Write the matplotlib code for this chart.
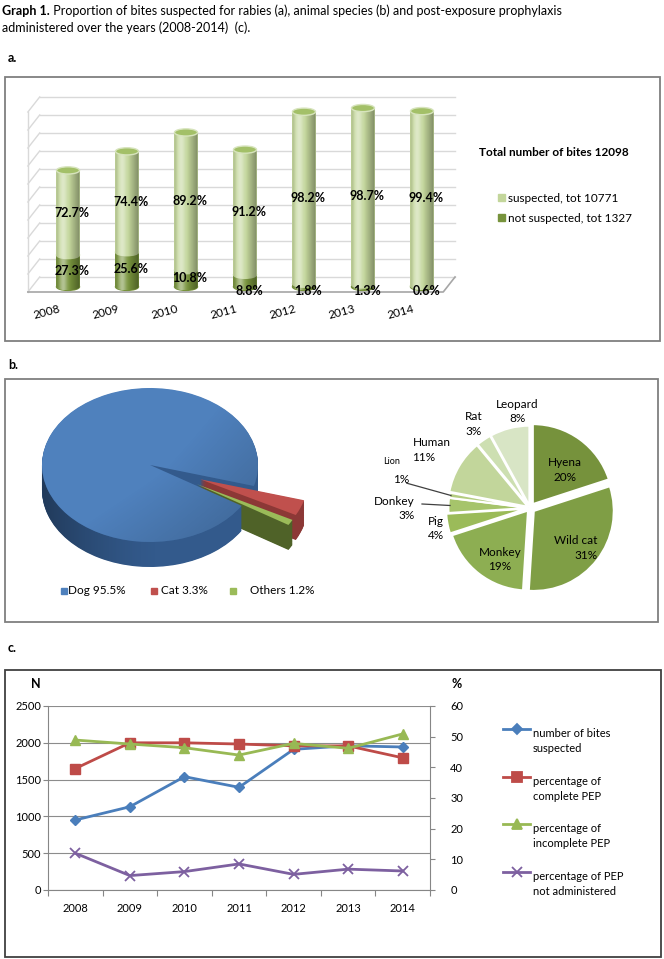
import numpy as np
import matplotlib
matplotlib.use("Agg")
import matplotlib.pyplot as plt
from matplotlib.patches import Rectangle, Ellipse, Polygon
from matplotlib.lines import Line2D

plt.rcParams['font.family'] = ['Lato', 'DejaVu Sans']

W, H = 664, 959

# ---- data -------------------------------------------------------------
years = ["2008", "2009", "2010", "2011", "2012", "2013", "2014"]

# a. bites per year (suspected / not suspected for rabies)
suspected = [940, 1120, 1530, 1390, 1910, 1960, 1940]
not_suspected = [353, 385, 185, 134, 35, 26, 12]
pct_suspected = [72.7, 74.4, 89.2, 91.2, 98.2, 98.7, 99.4]
pct_not_suspected = [27.3, 25.6, 10.8, 8.8, 1.8, 1.3, 0.6]
legend_a = ["suspected, tot 10771", "not suspected, tot 1327"]
total_a = "Total number of bites 12098"

# b. animal species
species = ["Dog 95.5%", "Cat 3.3%", "Others 1.2%"]
species_share = [95.5, 3.3, 1.2]
others = ["Hyena", "Wild cat", "Monkey", "Pig", "Donkey", "Lion", "Human", "Rat", "Leopard"]
others_share = [20, 31, 19, 4, 3, 1, 11, 3, 8]

# c. PEP over the years
bites_suspected = [951, 1131, 1540, 1395, 1911, 1960, 1943]
pep_complete = [39.6, 48.0, 48.0, 47.6, 47.0, 47.0, 43.1]
pep_incomplete = [48.9, 47.6, 46.4, 44.0, 47.8, 46.2, 50.9]
pep_none = [12.0, 4.7, 6.0, 8.5, 5.1, 6.8, 6.2]
series_c = ["number of bites\nsuspected", "percentage of\ncomplete PEP",
            "percentage of\nincomplete PEP", "percentage of PEP\nnot administered"]


def px_box(l, t, r, b):
    return [l / W, 1 - b / H, (r - l) / W, (b - t) / H]


fig = plt.figure(figsize=(W / 100, H / 100), dpi=100)

# overlay axes in pixel coordinates for frames, titles and legends
ax0 = fig.add_axes([0, 0, 1, 1])
ax0.set_xlim(0, W)
ax0.set_ylim(H, 0)
ax0.axis('off')

t1 = ax0.text(2, 11, "Graph 1.", fontsize=9, fontweight='bold', va='center')
ax0.annotate(" Proportion of bites suspected for rabies (a), animal species (b) and post-exposure prophylaxis",
             xy=(1, 0.5), xycoords=t1, va='center', fontsize=9)
ax0.text(2, 28, "administered over the years (2008-2014)  (c).", fontsize=9, va='center')
for lab, y in [("a.", 58), ("b.", 365), ("c.", 648)]:
    ax0.text(8, y, lab, fontsize=9, fontweight='bold', va='center')

ax0.add_patch(Rectangle((5, 77), 655, 264, fill=False, ec='#7f7f7f', lw=1.3))
ax0.add_patch(Rectangle((5, 379), 653, 243, fill=False, ec='#7f7f7f', lw=1.3))
ax0.add_patch(Rectangle((5, 670), 656, 287, fill=False, ec='#404040', lw=1.3))

# ---- a. 3D cylinder bars ---------------------------------------------
ax_a = fig.add_axes(px_box(20, 90, 470, 330))
ax_a.axis('off')
DX, DY = 0.2, 167
xf0, xf1 = -0.68, 6.36
wall = '#d9d9d9'
for g in range(0, 2001, 200):
    ax_a.plot([xf0 + DX, xf1 + DX], [g + DY, g + DY], color=wall, lw=1, zorder=1)
    ax_a.plot([xf0, xf0 + DX], [g, g + DY], color=wall, lw=1, zorder=1)
ax_a.plot([xf0, xf0], [0, 2000], color=wall, lw=1, zorder=1)
ax_a.plot([xf0, xf1, xf1 + DX], [0, 0, DY], color='#a6a6a6', lw=1.2, zorder=1)

light, dark, cap = '#c3d69b', '#77933c', '#a3c068'
bw, cap_h, b0 = 0.39, 80, 58
u = np.linspace(0, 1, 64)
hl = np.exp(-((u - 0.3) / 0.17) ** 2)
dk = np.clip((np.abs(u - 0.35) - 0.2) / 0.45, 0, 1)
shade = np.zeros((1, 64, 4))
shade[0, :, :3] = (hl / (hl + dk + 1e-6))[:, None]
shade[0, :, 3] = 0.45 * hl + 0.35 * dk

for i in range(len(years)):
    ns, s = not_suspected[i], suspected[i]
    top = b0 + ns + s
    ax_a.add_patch(Ellipse((i, b0), bw, cap_h, color=dark, zorder=3))
    ax_a.bar(i, ns, bottom=b0, width=bw, color=dark, zorder=3)
    ax_a.add_patch(Ellipse((i, b0 + ns), bw, cap_h, color=light, zorder=4))
    ax_a.bar(i, s, bottom=b0 + ns, width=bw, color=light, zorder=4)
    tl = np.linspace(np.pi, 2 * np.pi, 40)
    tu = np.linspace(0, np.pi, 40)
    xs = np.concatenate([i + bw / 2 * np.cos(tl), i + bw / 2 * np.cos(tu)])
    ys = np.concatenate([b0 + cap_h / 2 * np.sin(tl), top + cap_h / 2 * np.sin(tu)])
    outline = Polygon(np.column_stack([xs, ys]), closed=True, fc='none', ec='none')
    ax_a.add_patch(outline)
    im = ax_a.imshow(shade, extent=[i - bw / 2, i + bw / 2, b0 - cap_h / 2, top + cap_h / 2],
                     aspect='auto', zorder=5, interpolation='bilinear')
    im.set_clip_path(outline)
    ax_a.add_patch(Ellipse((i, top), bw, cap_h, fc=cap, ec='#d7e4bd', lw=1, zorder=6))

    ax_a.text(i + 0.07, b0 + ns + s / 2, f"{pct_suspected[i]:.1f}%", ha='center', va='center',
              fontsize=9, fontweight='bold', zorder=7)
    y_ns = b0 + ns / 2 if pct_not_suspected[i] >= 10 else b0 - 45
    ax_a.text(i + 0.07, y_ns, f"{pct_not_suspected[i]:.1f}%", ha='center', va='center',
              fontsize=9, fontweight='bold', zorder=7)
    ax_a.text(i - 0.36, -225, years[i], rotation=15, ha='center', va='center', fontsize=8.5)

ax_a.set_xlim((20 - 68) / 59, (470 - 68) / 59)
ax_a.set_ylim((292 - 330) / 0.09, (292 - 90) / 0.09)

ax0.text(479, 153, total_a, fontsize=8.5, fontweight='bold', va='center')
for lab, col, y in zip(legend_a, [light, dark], [198, 218]):
    ax0.add_patch(Rectangle((498, y - 4), 7, 7, color=col))
    ax0.text(508, y, lab, fontsize=8.5, va='center')

# ---- b. left 3D pie --------------------------------------------------
ax_b1 = fig.add_axes(px_box(10, 383, 330, 580))
top_cols = ['#4f81bd', '#c0504d', '#9bbb59']
side_cols = ['#335a8c', '#8c3836', '#4f6228']
explode = [0, 0.5, 0.5]
thick = 25 / 77
n = 40
for k in range(n, 0, -1):
    ax_b1.pie(species_share, colors=side_cols, explode=explode, startangle=-32,
              counterclock=False, center=(0, -thick * k / n), wedgeprops=dict(linewidth=0))

# horizontal shading on the visible side of the dog slice
ts = np.linspace(np.pi, 2 * np.pi - np.deg2rad(32), 80)
side_xy = np.concatenate([np.column_stack([np.cos(ts), np.sin(ts)]),
                          np.column_stack([np.cos(ts[::-1]), np.sin(ts[::-1]) - thick])])
side_poly = Polygon(side_xy, closed=True, fc='none', ec='none')
ax_b1.add_patch(side_poly)
us = np.linspace(0, 1, 80)
side_img = np.zeros((1, 80, 4))
side_img[0, :, 3] = 0.35 * np.clip(1 - us / 0.55, 0, 1) ** 1.5
im_s = ax_b1.imshow(side_img, extent=[-1, 1, -1 - thick, 0], aspect='auto', zorder=2,
                    interpolation='bilinear')
im_s.set_clip_path(side_poly)

wedges_b, _ = ax_b1.pie(species_share, colors=top_cols, explode=explode, startangle=-32,
                        counterclock=False, center=(0, 0), wedgeprops=dict(linewidth=0))
for w in wedges_b:
    w.set_zorder(3)
gx, gy = np.meshgrid(np.linspace(-1, 1, 120), np.linspace(1, -1, 120))
top_img = np.zeros((120, 120, 4))
top_img[..., 3] = 0.22 * np.clip(0.55 * gx - 0.45 * gy + 0.1 * np.hypot(gx, gy) - 0.1, 0, 1)
im_t = ax_b1.imshow(top_img, extent=[-1, 1, -1, 1], aspect='auto', zorder=4, interpolation='bilinear')
im_t.set_clip_path(wedges_b[0])

ax_b1.set_aspect('auto')
ax_b1.set_xlim((10 - 150) / 108, (330 - 150) / 108)
ax_b1.set_ylim((465 - 580) / 77, (465 - 383) / 77)
ax_b1.axis('off')

for lab, col, xs_, xt in zip(species, top_cols, [61, 151, 230], [68, 161, 250]):
    ax0.add_patch(Rectangle((xs_, 588), 6, 6, color=col))
    ax0.text(xt, 591, lab, fontsize=8.5, va='center')

# ---- b. right pie (others) -------------------------------------------
ax_b2 = fig.add_axes(px_box(380, 385, 658, 618))
greens = ['#76923c', '#7f9e45', '#8dae52', '#9bbb59', '#a6c46b', '#b3cc80',
          '#c2d69b', '#cddfb1', '#d8e5c5']
explode2 = [0.06, 0.06, 0.04, 0.05, 0.02, 0.02, 0.03, 0.03, 0.03]
wedges2, _ = ax_b2.pie(others_share, colors=greens, explode=explode2, startangle=90,
                       counterclock=False, wedgeprops=dict(edgecolor='white', linewidth=1.5))
ax_b2.set_aspect('auto')
ax_b2.set_xlim((380 - 530) / 80, (658 - 530) / 80)
ax_b2.set_ylim((508 - 618) / 80, (508 - 385) / 80)
ax_b2.axis('off')

label_pos = {
    "Hyena": (0.44, 0.475, 'center', 'center'),
    "Wild cat": (0.84, -0.5, 'right', 'right'),
    "Monkey": (-0.375, -0.64, 'center', 'center'),
    "Pig": (-1.175, -0.26, 'center', 'center'),
    "Donkey": (-1.44, -0.01, 'right', 'right'),
    "Human": (-1.47, 0.725, 'left', 'left'),
    "Rat": (-0.7, 1.05, 'center', 'center'),
    "Leopard": (-0.16, 1.21, 'center', 'center'),
}
for name, share, w in zip(others, others_share, wedges2):
    if name == "Lion":
        ax_b2.text(-1.725, 0.575, name, fontsize=6.5, ha='center', va='center')
        ax_b2.text(-1.61, 0.36, f"{share}%", fontsize=8.5, ha='center', va='center')
        start = (-1.54, 0.31)
    else:
        x_, y_, ha, ma = label_pos[name]
        ax_b2.text(x_, y_, f"{name}\n{share}%", fontsize=8.5, ha=ha, va='center',
                   multialignment=ma, linespacing=1.35)
        start = (-1.35, 0.05)
    if name in ("Lion", "Donkey"):
        mid = np.deg2rad((w.theta1 + w.theta2) / 2)
        cx, cy = w.center
        ax_b2.plot([start[0], cx + 0.98 * np.cos(mid)], [start[1], cy + 0.98 * np.sin(mid)],
                   color='#404040', lw=0.9)

# ---- c. lines ---------------------------------------------------------
ax_c = fig.add_axes(px_box(48, 706, 430, 890))
ax_c.set_facecolor('none')
x = np.arange(len(years))
c_cols = ['#4a7ebb', '#be4b48', '#98b954', '#7d60a0']
ax_c.plot(x, bites_suspected, color=c_cols[0], marker='D', ms=5.5, lw=2, zorder=3)
ax_c.set_xlim(-0.5, 6.5)
ax_c.set_ylim(0, 2500)
ax_c.set_yticks(range(0, 2501, 500))
ax_c.grid(axis='y', color='#8c8c8c', lw=0.8)
ax_c.set_axisbelow(True)
ax_c.set_xticks(np.arange(-0.5, 7, 1))
ax_c.set_xticklabels([])
ax_c.set_xticks(x, minor=True)
ax_c.set_xticklabels(years, minor=True)
ax_c.tick_params(axis='x', which='minor', length=0, pad=9, labelsize=8)
ax_c.tick_params(axis='x', which='major', length=4, color='#868686')
ax_c.tick_params(axis='y', length=3.5, pad=1.5, labelsize=8, color='#868686')
for sp in ['top', 'right']:
    ax_c.spines[sp].set_visible(False)
for sp in ['left', 'bottom']:
    ax_c.spines[sp].set_color('#868686')

ax_c2 = ax_c.twinx()
ax_c2.plot(x, pep_complete, color=c_cols[1], marker='s', ms=7, lw=2)
ax_c2.plot(x, pep_incomplete, color=c_cols[2], marker='^', ms=7, lw=2)
ax_c2.plot(x, pep_none, color=c_cols[3], marker='x', ms=7, mew=1.3, lw=2)
ax_c2.set_ylim(0, 60)
ax_c2.set_yticks(range(0, 61, 10))
ax_c2.tick_params(axis='y', length=3.5, pad=11, labelsize=8, color='#868686')
for sp in ['top', 'left', 'bottom']:
    ax_c2.spines[sp].set_visible(False)
ax_c2.spines['right'].set_color('#868686')

ax0.text(36, 684, "N", fontsize=9, fontweight='bold', ha='center', va='center')
ax0.text(457, 684, "%", fontsize=9, fontweight='bold', ha='center', va='center')

markers = [('D', 5.5), ('s', 7), ('^', 7), ('x', 7)]
for lab, col, (m, ms), y in zip(series_c, c_cols, markers, [729, 777, 824, 872]):
    ax0.add_line(Line2D([503, 516.5, 530], [y, y, y], color=col, lw=2, marker=m, ms=ms,
                        markevery=[1], mew=1.3))
    ax0.text(533, y - 1, lab, fontsize=8, va='top', linespacing=1.45)

fig.savefig("out.png", dpi=100)
